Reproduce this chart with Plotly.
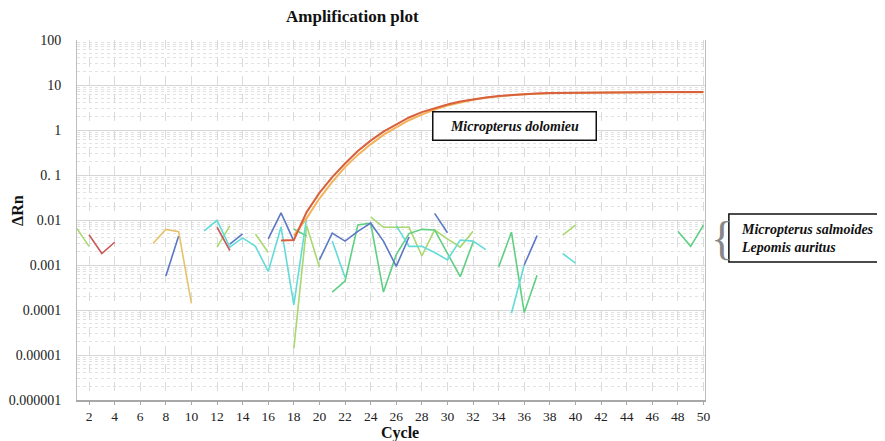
import plotly.graph_objects as go

# ---------------- data ----------------
x_ticks = list(range(2, 51, 2))
y_tickvals = [100, 10, 1, 0.1, 0.01, 0.001, 0.0001, 0.00001, 0.000001]
y_ticktext = ["100", "10", "1", "0. 1", "0.01", "0.001", "0.0001", "0.00001", "0.000001"]

# amplification curves (Micropterus dolomieu)
amp_cycles_red = list(range(17, 51))
amp_red = [0.0035, 0.0036, 0.015, 0.04, 0.09, 0.18, 0.34, 0.58, 0.92, 1.35, 1.9, 2.5,
           3.1, 3.7, 4.3, 4.85, 5.3, 5.7, 6.0, 6.3, 6.5, 6.6, 6.65, 6.7, 6.75, 6.9,
           6.95, 6.95, 6.95, 6.95, 6.95, 6.95, 6.95, 6.95]
amp_cycles_orange = list(range(18, 51))
amp_orange = [0.0045, 0.011, 0.03, 0.07, 0.15, 0.28, 0.48, 0.78, 1.15, 1.65, 2.2, 2.85,
              3.5, 4.1, 4.7, 5.2, 5.6, 5.95, 6.25, 6.45, 6.55, 6.6, 6.65, 6.7, 6.85,
              6.9, 6.9, 6.9, 6.9, 6.9, 6.9, 6.9, 6.9]

# background noise (Micropterus salmoides / Lepomis auritus); None = gap
red_cycles = [2, 3, 4, None, 12, 13]
red_vals = [0.0047, 0.0018, 0.0032, None, 0.0069, 0.0021]

orange_cycles = [7, 8, 9, 10]
orange_vals = [0.003, 0.0062, 0.0055, 0.00014]

blue_cycles = [8, 9, None, 13, 14, None, 16, 17, 18, None, 20, 21, 22, 23, 24, 25, 26, 27,
               None, 29, 30, None, 36, 37]
blue_vals = [0.00057, 0.0044, None, 0.0029, 0.0049, None, 0.0038, 0.0144, 0.0034, None,
             0.0013, 0.0051, 0.0034, 0.0056, 0.0085, 0.0034, 0.00093, 0.0042, None,
             0.014, 0.0052, None, 0.001, 0.0045]

cyan_cycles = [11, 12, 13, 14, 15, 16, 17, 18, 19, None, 21, 22, None,
               26, 27, 28, 29, 30, 31, 32, 33, None, 35, 36, None, 39, 40]
cyan_vals = [0.0057, 0.0098, 0.0025, 0.004, 0.0026, 0.00072, 0.007, 0.00013, 0.0115, None,
             0.0034, 0.00053, None, 0.0075, 0.0026, 0.0026, 0.0019, 0.0013, 0.0036,
             0.0034, 0.0022, None, 0.000085, 0.001, None, 0.0018, 0.0011]

lime_cycles = [1, 2, None, 12, 13, None, 15, 16, None, 18, 19, 20, None,
               24, 25, 26, 27, 28, 29, 30, 31, 32, None, 39, 40]
lime_vals = [0.0068, 0.0026, None, 0.0025, 0.0074, None, 0.0049, 0.0019, None,
             0.000014, 0.0075, 0.0009, None, 0.0117, 0.0069, 0.0069, 0.0069, 0.0016,
             0.006, 0.0038, 0.0025, 0.0056, None, 0.0046, 0.0077]

green_cycles = [18, 19, None, 21, 22, 23, 24, 25, 26, 27, 28, 29, 30, 31, 32, None,
                34, 35, 36, 37, None, 48, 49, 50]
green_vals = [0.0063, 0.0044, None, 0.00025, 0.00044, 0.0078, 0.0085, 0.00025, 0.0017,
              0.005, 0.0062, 0.006, 0.0018, 0.00055, 0.0032, None, 0.0009, 0.0054,
              0.000088, 0.00059, None, 0.0056, 0.0026, 0.0077]

# ---------------- figure ----------------
SERIF = "Liberation Serif, Times New Roman, Tinos, DejaVu Serif, serif"

fig = go.Figure()

noise = [
    (lime_cycles, lime_vals, "#a9d86e"),
    (green_cycles, green_vals, "#5fcf82"),
    (cyan_cycles, cyan_vals, "#62dcd8"),
    (blue_cycles, blue_vals, "#5b78c6"),
    (orange_cycles, orange_vals, "#e6c26a"),
    (red_cycles, red_vals, "#c9585a"),
]
for xs, ys, col in noise:
    fig.add_trace(go.Scatter(x=xs, y=ys, mode="lines", line=dict(color=col, width=1.6),
                             connectgaps=False, hoverinfo="skip"))

fig.add_trace(go.Scatter(x=amp_cycles_orange, y=amp_orange, mode="lines",
                         line=dict(color="#f2b35a", width=2), hoverinfo="skip"))
fig.add_trace(go.Scatter(x=amp_cycles_red, y=amp_red, mode="lines",
                         line=dict(color="#d8603c", width=2), hoverinfo="skip"))

minor_vals = [m * 10.0 ** k for k in range(-6, 2) for m in range(2, 10)]

fig.update_layout(
    width=877, height=433,
    margin=dict(l=69, r=180, t=32, b=41, autoexpand=False),
    plot_bgcolor="white", paper_bgcolor="white",
    showlegend=False,
    font=dict(family=SERIF, size=13, color="#222"),
    xaxis=dict(
        range=[1.06, 50.12], tickvals=x_ticks, ticktext=[str(v) for v in x_ticks],
        showgrid=True, gridcolor="#dadada", griddash="dash", gridwidth=1,
        showline=True, linecolor="#a8a8a8", linewidth=1.5,
        ticks="outside", ticklen=3, tickcolor="#a8a8a8",
        tickfont=dict(size=13.5, family=SERIF, color="#222"),
        zeroline=False,
    ),
    yaxis=dict(
        type="log", range=[-6, 2], tickvals=y_tickvals, ticktext=y_ticktext,
        showgrid=True, gridcolor="#d6d6d6", gridwidth=1,
        minor=dict(tickvals=minor_vals, showgrid=True, gridcolor="#e2e2e2",
                   griddash="dot", ticks=""),
        showline=True, linecolor="#bdbdbd", linewidth=1, mirror=True,
        ticks="", ticklabelstandoff=12,
        tickfont=dict(size=14, family=SERIF, color="#222"),
        zeroline=False,
    ),
)

fig.add_annotation(text="<b>Amplification plot</b>", xref="paper", yref="paper",
                   x=0.438, y=1.064, xanchor="center", yanchor="middle", showarrow=False,
                   font=dict(size=17, family=SERIF, color="#111"))
fig.add_annotation(text="<b>Cycle</b>", xref="paper", yref="paper",
                   x=0.514, y=-0.092, xanchor="center", yanchor="middle", showarrow=False,
                   font=dict(size=16, family=SERIF, color="#111"))
fig.add_annotation(text="<b>ΔRn</b>", xref="paper", yref="paper",
                   x=-0.094, y=0.528, xanchor="center", yanchor="middle",
                   showarrow=False, textangle=-90,
                   font=dict(size=16, family=SERIF, color="#111"))

fig.add_annotation(text="<b><i>Micropterus dolomieu</i></b>", xref="paper", yref="paper",
                   x=0.697, y=0.76, xanchor="center", yanchor="middle",
                   showarrow=False, width=158, height=23,
                   bgcolor="white", bordercolor="#111", borderwidth=1.5, borderpad=2,
                   font=dict(size=14, family=SERIF, color="#111"))

fig.add_shape(type="rect", xref="paper", yref="paper", x0=1.038, x1=1.30, y0=0.383, y1=0.517,
              line=dict(color="#111", width=1.5), fillcolor="white", layer="above")
fig.add_annotation(text="<b><i>Micropterus salmoides<br>Lepomis auritus</i></b>",
                   xref="paper", yref="paper", x=1.054, y=0.45, xanchor="left",
                   yanchor="middle", align="left", showarrow=False,
                   font=dict(size=14, family=SERIF, color="#111"))
fig.add_annotation(text="{", xref="paper", yref="paper", x=1.027, y=0.45,
                   xanchor="center", yanchor="middle", showarrow=False,
                   font=dict(size=46, family=SERIF, color="#888"))

fig.write_html("out.html")
